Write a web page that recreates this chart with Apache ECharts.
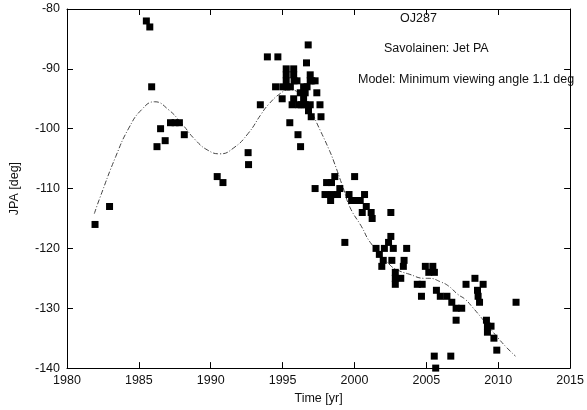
<!DOCTYPE html>
<html>
<head>
<meta charset="utf-8">
<script src="https://cdn.jsdelivr.net/npm/echarts@6/dist/echarts.min.js"></script>
<style>
  html, body { margin: 0; padding: 0; background: #fff; }
  #chart { width: 587px; height: 410px; }
</style>
</head>
<body>
<div id="chart"></div>
<script>
// 观测点 [年份, JPA]
const jetPA = [
  [1981.95, -116], [1982.96, -113],
  [1985.52, -82], [1985.76, -83], [1985.89, -93],
  [1986.26, -103], [1986.51, -100], [1986.83, -102],
  [1987.2, -99], [1987.52, -99], [1987.82, -99], [1988.16, -101],
  [1990.45, -108], [1990.85, -109],
  [1992.6, -104], [1992.63, -106],
  [1993.45, -96],
  [1993.94, -88], [1994.67, -88], [1994.51, -93],
  [1994.97, -95], [1995.01, -93],
  [1995.25, -90], [1995.25, -91], [1995.25, -92], [1995.3, -93],
  [1995.5, -99], [1995.54, -93], [1995.66, -96],
  [1995.77, -90], [1995.77, -91], [1995.8, -92], [1995.77, -95],
  [1996.0, -92], [1996.07, -101], [1996.11, -96],
  [1996.23, -94], [1996.25, -103], [1996.46, -95], [1996.46, -93], [1996.3, -96],
  [1996.57, -94], [1996.57, -96], [1996.66, -89], [1996.78, -86], [1996.8, -97], [1996.7, -93],
  [1996.92, -91], [1996.92, -92], [1996.92, -96], [1996.99, -98], [1997.03, -92],
  [1997.26, -92], [1997.38, -94], [1997.6, -96], [1997.67, -98],
  [1997.26, -110], [1997.95, -111], [1998.06, -109], [1998.4, -109], [1998.4, -111],
  [1998.34, -112], [1998.63, -108], [1998.82, -111], [1998.98, -110], [1999.33, -119],
  [1999.62, -111], [1999.8, -112], [2000.01, -108], [2000.15, -112], [2000.4, -112],
  [2000.54, -114], [2000.7, -111], [2000.82, -113], [2001.16, -114], [2001.23, -115],
  [2001.5, -120], [2001.73, -121], [2001.9, -123], [2002.0, -122], [2002.08, -120],
  [2002.37, -119], [2002.53, -118], [2002.53, -114], [2002.6, -122], [2002.7, -120],
  [2002.84, -124], [2002.84, -125], [2002.84, -126], [2003.22, -125], [2003.4, -123],
  [2003.45, -122], [2003.63, -120],
  [2004.37, -126], [2004.66, -128], [2004.71, -126], [2004.93, -123], [2005.17, -124],
  [2005.45, -123], [2005.56, -124],
  [2005.55, -138], [2005.65, -140], [2006.7, -138],
  [2005.7, -127], [2005.97, -128], [2006.43, -128], [2006.77, -129], [2007.07, -130],
  [2007.07, -132], [2007.46, -130], [2007.76, -126], [2008.38, -125], [2008.56, -127],
  [2008.6, -128], [2008.7, -129], [2008.95, -126],
  [2009.18, -132], [2009.25, -133], [2009.5, -133], [2009.25, -134], [2009.7, -135],
  [2009.9, -137], [2011.24, -129]
]

// 模型曲线 (最小视角 1.1 deg)
const modelYears = [1981.9, 1982.25, 1983.4, 1984.3, 1985.2, 1986.1, 1987.05, 1988.0, 1988.9, 1989.8,
  1990.65, 1991.6, 1992.6, 1993.5, 1994.0, 1994.85, 1995.45, 1996.1, 1996.9, 1997.6,
  1998.25, 1998.55, 1999.2, 1999.7, 2000.5, 2001.1, 2002.4, 2002.9, 2003.8, 2004.9,
  2005.2, 2006.0, 2006.55, 2007.2, 2007.7, 2008.2, 2008.8, 2009.1, 2010.0, 2010.6, 2011.2]
const modelPA = [-114.2, -111.8, -104.6, -99.9, -96.8, -95.5, -96.8, -99.2, -101.8, -103.6,
  -104.2, -103.2, -100.8, -97.6, -96.0, -94.1, -93.5, -94.0, -96.8, -100.2,
  -103.6, -105.4, -109.8, -113.2, -116.4, -119.0, -122.6, -123.5, -124.3, -125.0,
  -125.0, -125.6, -126.3, -127.7, -128.5, -129.8, -131.5, -132.4, -135.0, -136.6, -138.0]

const xTicks = { min: 1980, max: 2015, interval: 5 }
const yTicks = { min: -140, max: -80, interval: 10 }
const labels = ['OJ287', 'Savolainen: Jet PA', 'Model: Minimum viewing angle 1.1 deg']

const chart = echarts.init(document.getElementById('chart'))
const font = 'Liberation Sans, Arial, sans-serif'
const fs = 12.5
const axisLine = { show: true, lineStyle: { color: '#000', width: 1 } }
const tick = { show: true, inside: true, length: 6, lineStyle: { color: '#000' } }

const option = {
  animation: false,
  textStyle: { fontFamily: font },
  grid: { left: 64, right: 14, top: 9, bottom: 41 },
  xAxis: [
    {
      type: 'value', ...xTicks, position: 'bottom',
      axisLine, axisTick: tick, splitLine: { show: false },
      axisLabel: { color: '#111', fontSize: fs, margin: 6, fontFamily: font, formatter: v => String(v) },
      name: 'Time [yr]', nameLocation: 'middle', nameGap: 22,
      nameTextStyle: { color: '#111', fontSize: fs, fontFamily: font }
    },
    {
      type: 'value', ...xTicks, position: 'top',
      axisLine, axisTick: tick, splitLine: { show: false }, axisLabel: { show: false }
    }
  ],
  yAxis: [
    {
      type: 'value', ...yTicks, position: 'left',
      axisLine, axisTick: tick, splitLine: { show: false },
      axisLabel: { color: '#111', fontSize: fs, margin: 7, fontFamily: font },
      name: 'JPA [deg]', nameLocation: 'middle', nameGap: 46, nameRotate: 90,
      nameTextStyle: { color: '#111', fontSize: fs, fontFamily: font }
    },
    {
      type: 'value', ...yTicks, position: 'right',
      axisLine, axisTick: tick, splitLine: { show: false }, axisLabel: { show: false }
    }
  ],
  graphic: [
    { type: 'text', left: 400, top: 12, style: { text: labels[0], font: fs + 'px ' + font, fill: '#111' } },
    { type: 'text', left: 384, top: 42, style: { text: labels[1], font: fs + 'px ' + font, fill: '#111' } },
    { type: 'text', left: 358, top: 73, style: { text: labels[2], font: fs + 'px ' + font, fill: '#111' } }
  ],
  series: [
    {
      type: 'line',
      data: modelYears.map((y, i) => [y, modelPA[i]]),
      smooth: true,
      symbol: 'none',
      lineStyle: { color: '#444', width: 1, type: [5, 2, 1, 2] },
      z: 1
    },
    {
      type: 'scatter',
      data: jetPA,
      symbol: 'rect',
      symbolSize: 7,
      itemStyle: { color: '#000', opacity: 1 },
      z: 2
    }
  ]
}
chart.setOption(option)
</script>
</body>
</html>
